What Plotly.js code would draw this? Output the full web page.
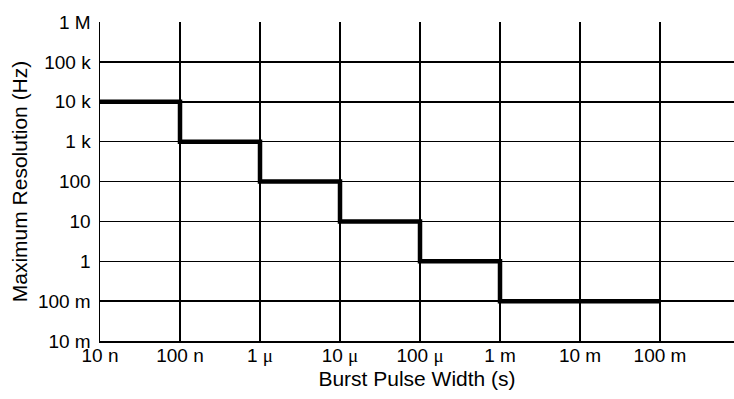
<!DOCTYPE html>
<html>
<head>
<meta charset="utf-8">
<script src="https://cdn.plot.ly/plotly-3.0.1.min.js"></script>
<style>html,body{margin:0;padding:0;background:#fff;}#chart{width:734px;height:399px;}</style>
</head>
<body>
<div id="chart"></div>
<script>
const MU = '<span style="font-family:Liberation Serif">\u03bc</span>';
const pulseWidth = [1e-8, 1e-7, 1e-6, 1e-5, 1e-4, 1e-3, 1e-1];
const resolution = [1e4, 1e3, 100, 10, 1, 0.1, 0.1];
const xTickVals = [1e-8, 1e-7, 1e-6, 1e-5, 1e-4, 1e-3, 1e-2, 1e-1];
const xTickText = ['10 n', '100 n', '1 ' + MU, '10 ' + MU, '100 ' + MU, '1 m', '10 m', '100 m'];
const yTickVals = [1e-2, 1e-1, 1, 10, 100, 1e3, 1e4, 1e5, 1e6];
const yTickText = ['10 m', '100 m', '1', '10', '100', '1 k', '10 k', '100 k', '1 M'];

const FAM = 'Liberation Sans, Arial, sans-serif';
function f(s) { return {family: FAM, size: s, color: '#000'}; }

Plotly.newPlot('chart', [{
  x: pulseWidth,
  y: resolution,
  type: 'scatter',
  mode: 'lines',
  line: {shape: 'hv', color: '#000', width: 4.5},
  hoverinfo: 'none'
}], {
  width: 734, height: 399,
  margin: {l: 100, r: 0, t: 22, b: 58},
  paper_bgcolor: '#fff', plot_bgcolor: '#fff',
  font: f(19),
  showlegend: false,
  xaxis: {
    type: 'log', range: [-8, -0.075],
    tickvals: xTickVals, ticktext: xTickText,
    showgrid: true, gridcolor: '#000', gridwidth: 1.5,
    showline: true, linecolor: '#000', linewidth: 1.5,
    ticks: '', ticklen: 0, zeroline: false,
    tickfont: f(19), ticklabelstandoff: -3,
    title: {text: 'Burst Pulse Width (s)', font: f(21), standoff: 6},
    automargin: false
  },
  yaxis: {
    type: 'log', range: [-2, 6],
    tickvals: yTickVals, ticktext: yTickText,
    showgrid: true, gridcolor: '#000', gridwidth: 1.5,
    showline: true, linecolor: '#000', linewidth: 1.5,
    ticks: '', ticklen: 0, zeroline: false,
    tickfont: f(19), ticklabelstandoff: 4,
    title: {text: 'Maximum Resolution (Hz)', font: f(21), standoff: 4},
    automargin: false
  }
}, {displayModeBar: false, staticPlot: true});
</script>
</body>
</html>
